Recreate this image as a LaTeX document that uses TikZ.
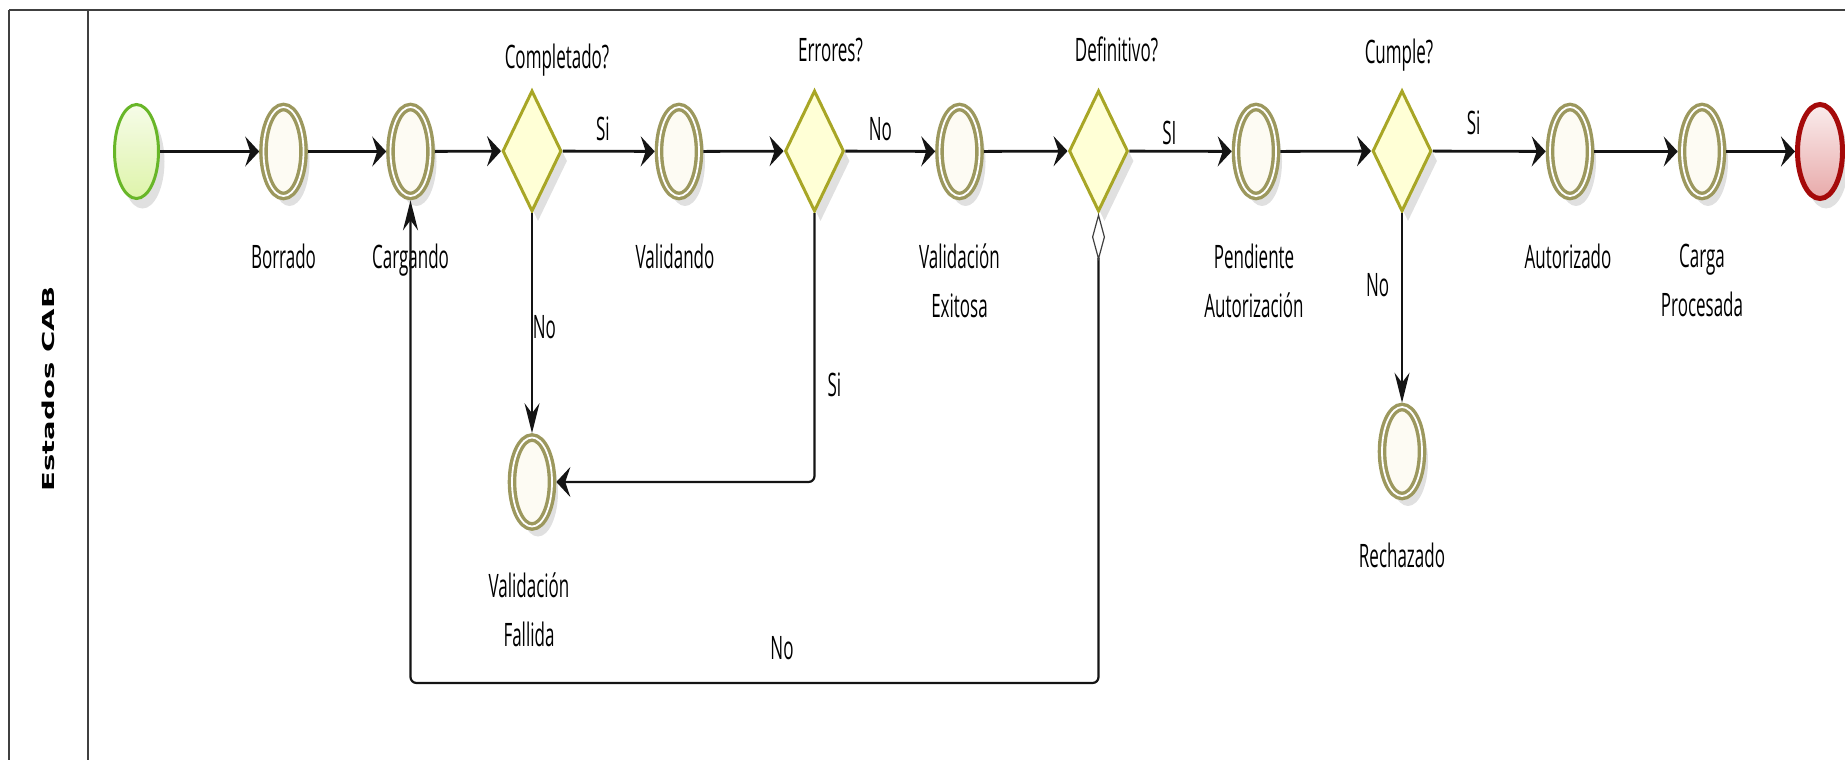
\documentclass[tikz,border=0pt]{standalone}
\usepackage{fontspec}
\setmainfont{Open Sans}
\newfontfamily\lanefont{DejaVu Sans}
\usepackage{tikz}
\usetikzlibrary{positioning,shapes.geometric,arrows.meta,shadows}

\definecolor{ringc}{RGB}{156,152,94}
\definecolor{evfill}{RGB}{253,251,243}
\definecolor{gatec}{RGB}{168,166,38}
\definecolor{gatefill}{RGB}{255,255,214}
\definecolor{startc}{RGB}{104,182,40}
\definecolor{startfa}{RGB}{246,252,232}
\definecolor{startfb}{RGB}{222,244,170}
\definecolor{endc}{RGB}{165,10,10}
\definecolor{endfa}{RGB}{250,236,236}
\definecolor{endfb}{RGB}{232,170,170}
\definecolor{framec}{RGB}{64,64,64}
\definecolor{linec}{RGB}{20,20,20}

\begin{document}
\begin{tikzpicture}[
			x=0.5pt, y=-0.5pt
			,htip/.tip={Stealth[length=7pt,width=15pt,inset=2.5pt]}
			,vtip/.tip={Stealth[length=15pt,width=7.5pt,inset=5pt]}
			,dmark/.tip={Diamond[open,length=24pt,width=6.5pt,line width=.6pt,color=darkgray]}
			,lbl/.style={font=\fontsize{8.5}{12.9}\selectfont, align=center, inner sep=0pt, yscale=1.9}
			,lane/.style={font=\lanefont\bfseries\fontsize{8.25}{10}\selectfont, inner sep=0pt, rotate=90, xscale=1.76}
			,shad/.style={drop shadow={shadow xshift=3pt, shadow yshift=-5pt, opacity=.12, fill=black}}
			,evt/.style={ellipse, shad, draw=ringc, line width=1.7pt, double=white, double distance=.9pt, fill=evfill, minimum width=20pt, minimum height=44.5pt, inner sep=0pt, outer sep=2.15pt}
			,gate/.style={diamond, shad, draw=gatec, line width=1.5pt, fill=gatefill, minimum width=29.5pt, minimum height=60.5pt, inner sep=0pt}
			,evstart/.style={ellipse, shad, draw=startc, line width=1.5pt, top color=startfa, bottom color=startfb, minimum width=22pt, minimum height=47pt, inner sep=0pt}
			,evend/.style={ellipse, shad, draw=endc, line width=2.5pt, top color=endfa, bottom color=endfb, minimum width=22.5pt, minimum height=47pt, inner sep=0pt}
			,flow/.style={draw=linec, line width=1.4pt, -htip}
			,vflow/.style={draw=linec, line width=.8pt, -vtip}
			,lflow/.style={draw=linec, line width=1.1pt, rounded corners=3pt}
			,frame/.style={draw=framec, line width=1pt}
		]
			\useasboundingbox (0,0) rectangle (1845,760);
			\draw[frame] (9,10) -- (1845,10);
			\draw[frame] (9,10) -- (9,760);
			\draw[frame] (88,10) -- (88,760);
			\node[lane] (lanelbl) at (48,389) {Estados CAB};

			\node[evstart] (start) at (136.5,151.5) {};
			\node[evt] (borr) at (283.5,151.5) {};
			\node[evt] (carg) at (410.5,151.5) {};
			\node[gate] (comp) at (532,151) {};
			\node[evt] (valid) at (679,151.5) {};
			\node[gate] (err) at (814.5,151) {};
			\node[evt] (vexit) at (959.5,151.5) {};
			\node[gate] (def) at (1098.5,151) {};
			\node[evt] (pend) at (1256,151.5) {};
			\node[gate] (cump) at (1402,151) {};
			\node[evt] (autor) at (1570,151.5) {};
			\node[evt] (cproc) at (1702,151.5) {};
			\node[evend] (fin) at (1820,151.5) {};
			\node[evt] (fall) at (532,482) {};
			\node[evt] (rech) at (1402,451.5) {};

			\node[lbl, below=21.5pt of borr] (lborr) {Borrado};
			\node[lbl, below=21.5pt of carg] (lcarg) {Cargando};
			\node[lbl, below=21.5pt of valid, xshift=-2pt] (lvalid) {Validando};
			\node[lbl, below=21.5pt of vexit] (lvexit) {Validación\\Exitosa};
			\node[lbl, below=21.5pt of pend, xshift=-1pt] (lpend) {Pendiente\\Autorización};
			\node[lbl, below=21.5pt of autor, xshift=-1pt] (lautor) {Autorizado};
			\node[lbl, below=21.5pt of cproc] (lcproc) {Carga\\Procesada};
			\node[lbl, below=20.75pt of fall, xshift=-1.5pt] (lfall) {Validación\\Fallida};
			\node[lbl, below=21pt of rech] (lrech) {Rechazado};
			\node[lbl, above=6pt of comp, xshift=12.5pt] (lcomp) {Completado?};
			\node[lbl, above=13pt of err, xshift=8pt] (lerr) {Errores?};
			\node[lbl, above=13pt of def, xshift=9pt] (ldef) {Definitivo?};
			\node[lbl, above=8.5pt of cump, xshift=-1.5pt] (lcump) {Cumple?};

			\draw[flow] (start) -- (borr);
			\draw[flow] (borr) -- (carg);
			\draw[flow] (carg) -- (comp);
			\draw[flow] (comp) -- node[above=4pt, lbl, pos=.435] {Si} (valid);
			\draw[flow] (valid) -- (err);
			\draw[flow] (err) -- node[above=4pt, lbl, pos=.39] {No} (vexit);
			\draw[flow] (vexit) -- (def);
			\draw[flow] (def) -- node[above=2pt, lbl, pos=.39] {SI} (pend);
			\draw[flow] (pend) -- (cump);
			\draw[flow] (cump) -- node[above=7pt, lbl, pos=.36] {Si} (autor);
			\draw[flow] (autor) -- (cproc);
			\draw[flow] (cproc) -- (fin);

			\draw[vflow] (comp) -- node[right=0pt, lbl, pos=.52] {No} (fall);
			\draw[vflow] (cump) -- node[left=6pt, lbl, pos=.38] {No} (rech);
			\draw[lflow, -htip] (err) |- node[right=6pt, lbl, pos=.32] {Si} (fall);
			\coordinate (loopR) at (def.south |- 0,683);
			\draw[lflow, dmark-vtip] (def) -- (loopR) -| node[above=10.5pt, lbl, pos=.23] {No} (carg);
		\end{tikzpicture}
\end{document}
